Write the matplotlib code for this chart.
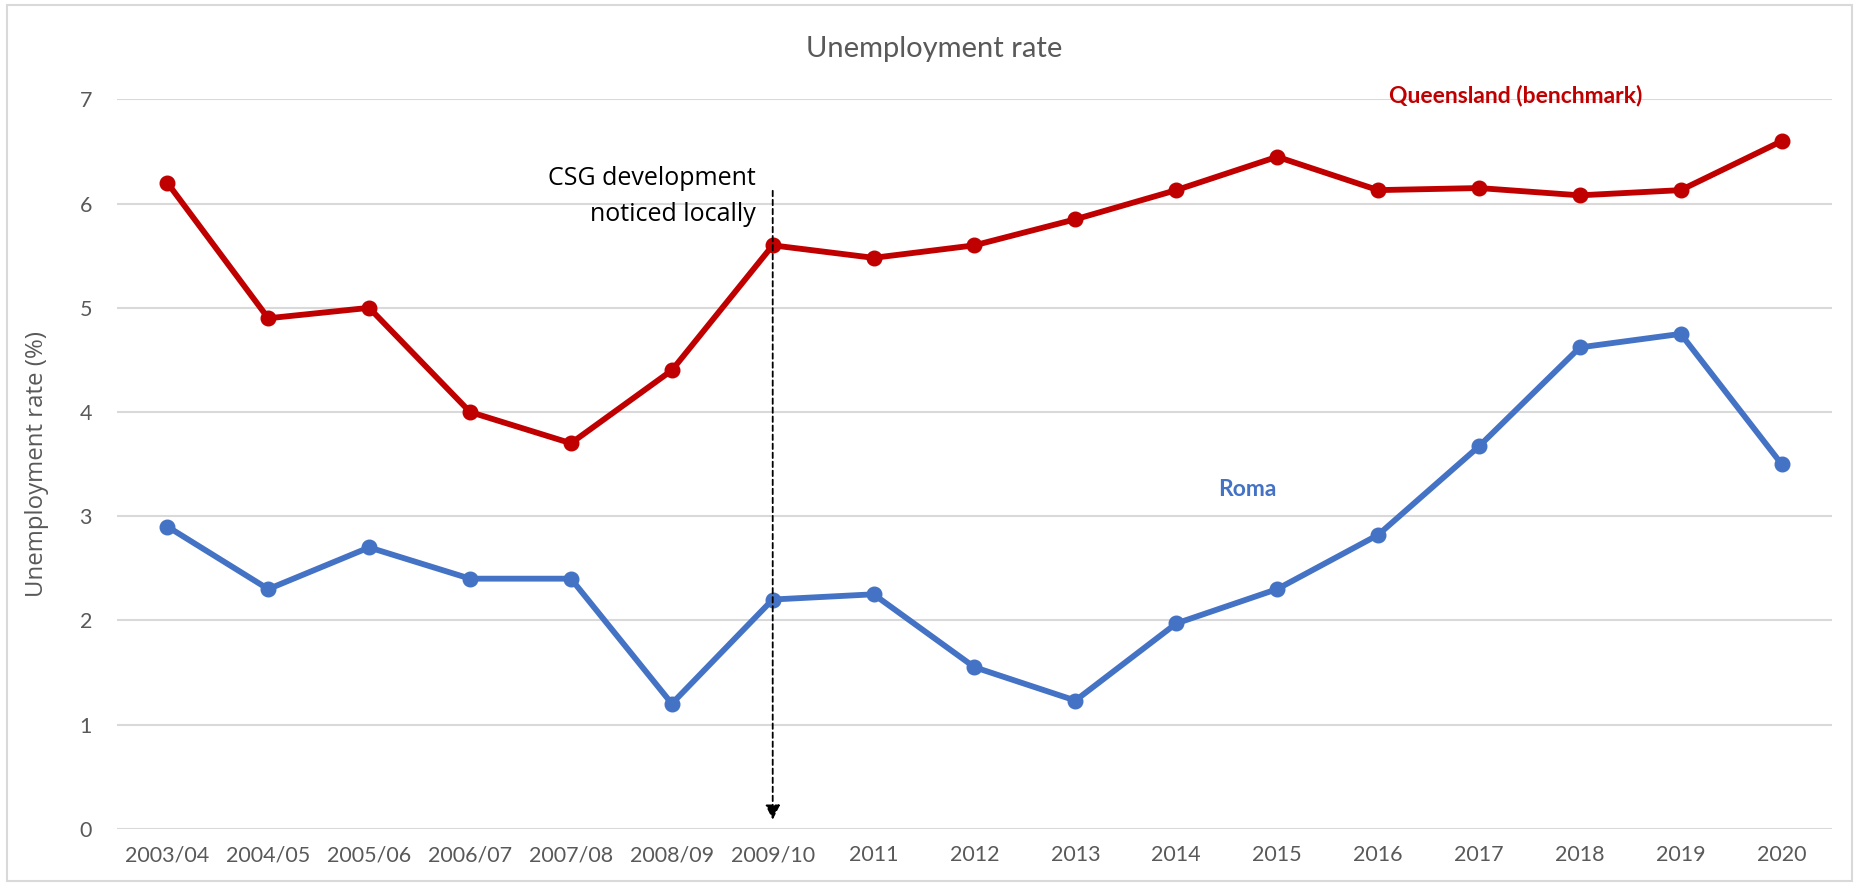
import matplotlib.pyplot as plt
from matplotlib.patches import Rectangle

periods = ['2003/04', '2004/05', '2005/06', '2006/07', '2007/08', '2008/09', '2009/10',
           '2011', '2012', '2013', '2014', '2015', '2016', '2017', '2018', '2019', '2020']
queensland = [6.2, 4.9, 5.0, 4.0, 3.7, 4.4, 5.6, 5.48, 5.6, 5.85, 6.13, 6.45,
              6.13, 6.15, 6.08, 6.13, 6.6]
roma = [2.9, 2.3, 2.7, 2.4, 2.4, 1.2, 2.2, 2.25, 1.55, 1.23, 1.97, 2.3,
        2.82, 3.67, 4.62, 4.75, 3.5]
event_period = '2009/10'

red = '#C00000'
blue = '#4472C4'
grey = '#595959'
tick_font = ['Lato', 'DejaVu Sans']

fig = plt.figure(figsize=(18.59, 8.86), dpi=100)
fig.patches.append(Rectangle((0.004, 0.006), 0.992, 0.988, transform=fig.transFigure,
                             fill=False, edgecolor='#D9D9D9', linewidth=1.5))
ax = fig.add_axes([0.0629, 0.0647, 0.9226, 0.823])

x = list(range(len(periods)))
ax.plot(x, queensland, color=red, linewidth=4.2, marker='o', markersize=10.5, zorder=3)
ax.plot(x, roma, color=blue, linewidth=4.2, marker='o', markersize=10.5, zorder=3)

ax.set_xlim(-0.5, len(periods) - 0.5)
ax.set_ylim(0, 7)
ax.set_yticks(range(0, 8))
ax.set_xticks(x)
ax.set_xticklabels(periods)
ax.grid(axis='y', color='#D9D9D9', linewidth=1.5)
ax.set_axisbelow(True)
for s in ax.spines.values():
    s.set_visible(False)
ax.tick_params(length=0, colors=grey, labelsize=15.5, pad=12)
for lab in ax.get_xticklabels() + ax.get_yticklabels():
    lab.set_family(tick_font)
ax.tick_params(axis='y', pad=18)

ax.set_ylabel('Unemployment rate (%)', fontsize=17.3, color=grey, family='Open Sans', labelpad=22)
fig.text(0.5025, 0.945, 'Unemployment rate', ha='center', va='center', fontsize=21,
         color=grey, family=tick_font)

# event marker
ex = periods.index(event_period)
ax.annotate('', xy=(ex, 0.06), xytext=(ex, 6.15),
            arrowprops=dict(arrowstyle='-|>', color='black', linestyle=(0, (3, 2)),
                            linewidth=1.3, mutation_scale=22))
ax.text(ex - 0.17, 6.07, 'CSG development\nnoticed locally', ha='right', va='center',
        fontsize=18, family='Open Sans', linespacing=1.6, color='black')

ax.text(13.36, 7.04, 'Queensland (benchmark)', ha='center', va='center', fontsize=16.5,
        fontweight='bold', color=red, family=tick_font)
ax.text(10.7, 3.26, 'Roma', ha='center', va='center', fontsize=16.5,
        fontweight='bold', color=blue, family=tick_font)

fig.savefig('out.png', dpi=100)
